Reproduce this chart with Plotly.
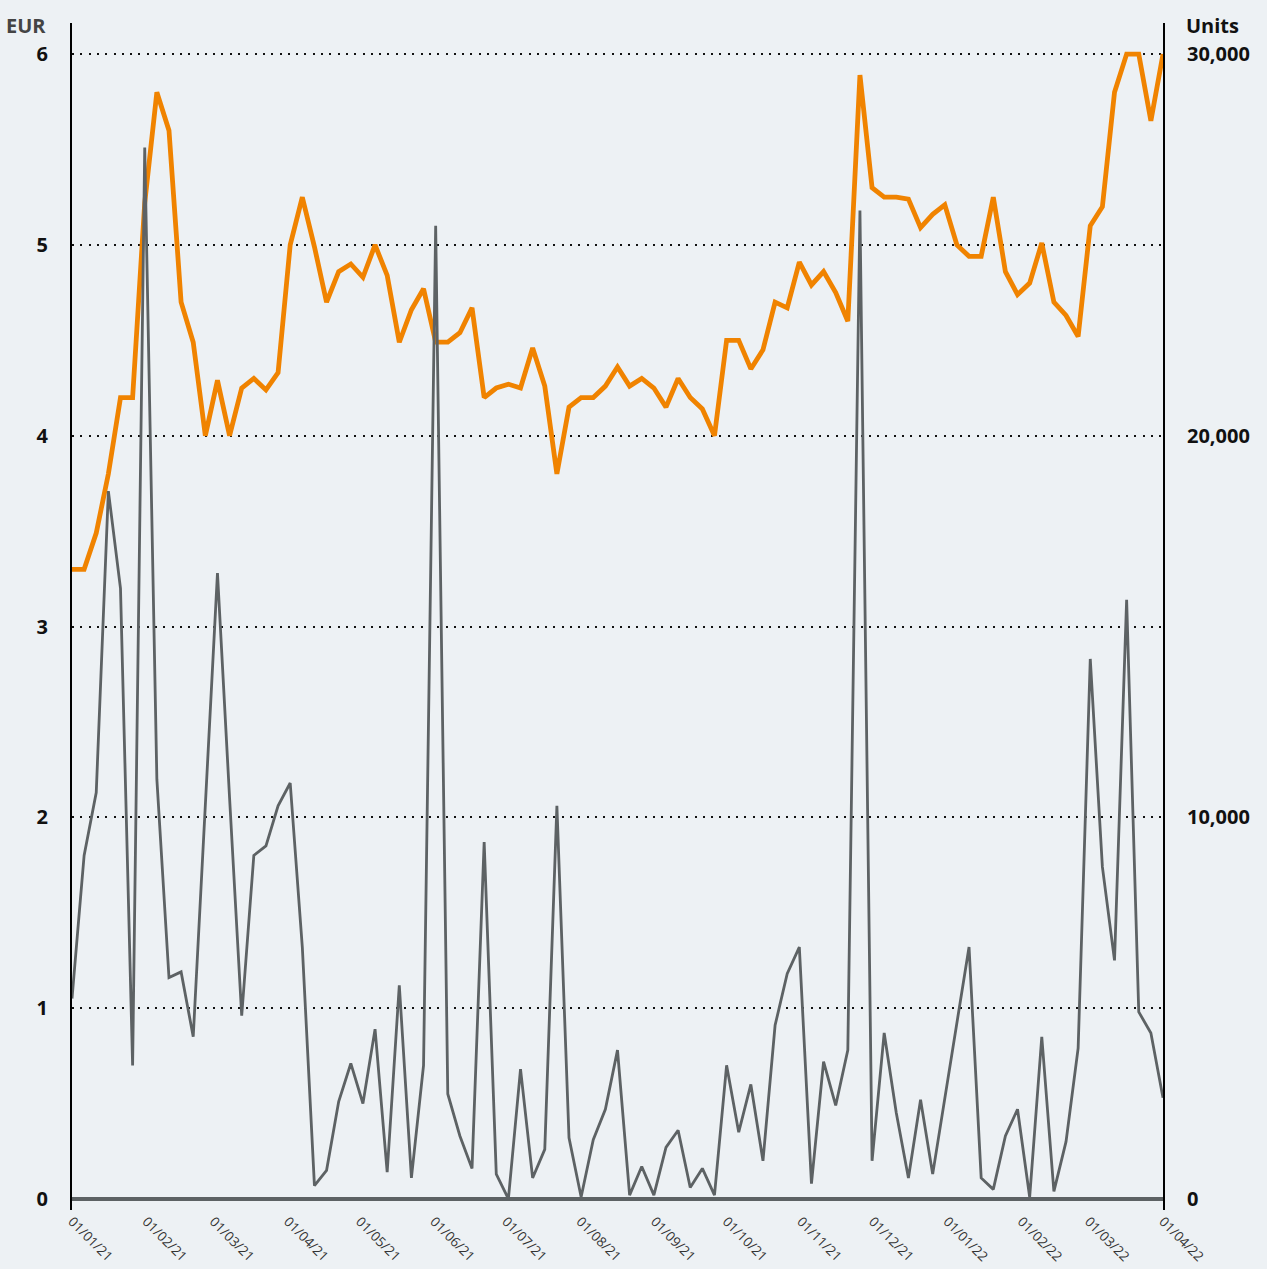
import pandas as pd
import plotly.graph_objects as go

# Price in EUR (left axis), one value per observation
price_eur = [
    3.30, 3.30, 3.49, 3.80, 4.20, 4.20, 5.22, 5.80, 5.60, 4.70,
    4.49, 4.00, 4.29, 4.00, 4.25, 4.30, 4.24, 4.33, 5.00, 5.25,
    4.99, 4.70, 4.86, 4.90, 4.83, 5.00, 4.84, 4.49, 4.66, 4.77,
    4.49, 4.49, 4.54, 4.67, 4.20, 4.25, 4.27, 4.25, 4.46, 4.26,
    3.80, 4.15, 4.20, 4.20, 4.26, 4.36, 4.26, 4.30, 4.25, 4.15,
    4.30, 4.20, 4.14, 4.00, 4.50, 4.50, 4.35, 4.45, 4.70, 4.67,
    4.91, 4.79, 4.86, 4.75, 4.60, 5.89, 5.30, 5.25, 5.25, 5.24,
    5.09, 5.16, 5.21, 5.00, 4.94, 4.94, 5.25, 4.86, 4.74, 4.80,
    5.01, 4.70, 4.63, 4.52, 5.10, 5.20, 5.80, 6.00, 6.00, 5.65,
    6.00,
]

# Volume in units (right axis)
volume_units = [
    5250, 9000, 10650, 18550, 16000, 3500, 27550, 11000, 5800, 5950,
    4250, 10250, 16400, 10500, 4800, 9000, 9250, 10300, 10900, 6600,
    350, 750, 2550, 3550, 2500, 4450, 700, 5600, 550, 3500,
    25500, 2750, 1650, 800, 9350, 650, 0, 3400, 550, 1300,
    10300, 1600, 50, 1550, 2350, 3900, 100, 850, 100, 1350,
    1800, 300, 800, 100, 3500, 1750, 3000, 1000, 4550, 5900,
    6600, 400, 3600, 2450, 3900, 25900, 1000, 4350, 2250, 550,
    2600, 650, 2650, 4600, 6600, 550, 250, 1650, 2350, 50,
    4250, 200, 1500, 3950, 14150, 8700, 6250, 15700, 4900, 4350,
    2650,
]

start_date = "2021-01-01"
end_date = "2022-04-01"
dates = pd.date_range(start_date, end_date, periods=len(price_eur))

left_ticks = [0, 1, 2, 3, 4, 5, 6]
right_ticks = [0, 10000, 20000, 30000]

ORANGE = "#f08300"
GREY = "#5d6264"
BG = "#edf1f4"

fig = go.Figure()
fig.add_trace(go.Scatter(
    x=dates, y=price_eur, mode="lines", name="Price (EUR)",
    line=dict(color=ORANGE, width=4.8), yaxis="y", showlegend=False,
))
fig.add_trace(go.Scatter(
    x=dates, y=volume_units, mode="lines", name="Units",
    line=dict(color=GREY, width=2.8), yaxis="y2", showlegend=False,
))

ymin, ymax = -0.058, 6.163
fig.update_layout(
    width=1267, height=1269,
    margin=dict(l=72, r=104, t=23, b=59),
    paper_bgcolor=BG, plot_bgcolor=BG,
    font=dict(family="Open Sans, sans-serif", color="#111111"),
    xaxis=dict(
        type="date",
        range=[start_date, end_date],
        tickmode="linear", tick0=start_date, dtick="M1",
        tickformat="%d/%m/%y",
        tickangle=45,
        tickfont=dict(size=13.5, color="#333333"),
        showgrid=False, zeroline=False, showline=False,
        ticks="", automargin=False,
    ),
    yaxis=dict(
        range=[ymin, ymax],
        tickvals=left_ticks,
        tickfont=dict(size=20, weight="bold", color="#111111"),
        showgrid=True, gridcolor="#111111", gridwidth=2, griddash="2px,6.3px",
        zeroline=True, zerolinecolor=GREY, zerolinewidth=3.5,
        showline=True, linecolor="#000000", linewidth=2,
        ticks="", ticklabelstandoff=18, automargin=False,
    ),
    yaxis2=dict(
        range=[ymin * 5000, ymax * 5000],
        overlaying="y", side="right",
        tickvals=right_ticks, tickformat=",d",
        tickfont=dict(size=20, weight="bold", color="#111111"),
        showgrid=False, zeroline=False,
        showline=True, linecolor="#000000", linewidth=2,
        ticks="", ticklabelstandoff=18, automargin=False,
    ),
    annotations=[
        dict(text="EUR", xref="paper", yref="paper", x=-0.022, y=0.998,
             xanchor="right", yanchor="middle", showarrow=False,
             font=dict(size=20, weight="bold", color="#444444")),
        dict(text="Units", xref="paper", yref="paper", x=1.019, y=0.998,
             xanchor="left", yanchor="middle", showarrow=False,
             font=dict(size=20, weight="bold", color="#111111")),
    ],
)

fig.write_html("out.html", config={"displayModeBar": False})

# remove the browser's default page margin so the figure fills the window
with open("out.html", "r", encoding="utf-8") as f:
    html = f.read()
html = html.replace(
    "<head>",
    "<head><style>html,body{margin:0;padding:0;background:%s;overflow:hidden;}</style>" % BG,
    1,
)
with open("out.html", "w", encoding="utf-8") as f:
    f.write(html)
